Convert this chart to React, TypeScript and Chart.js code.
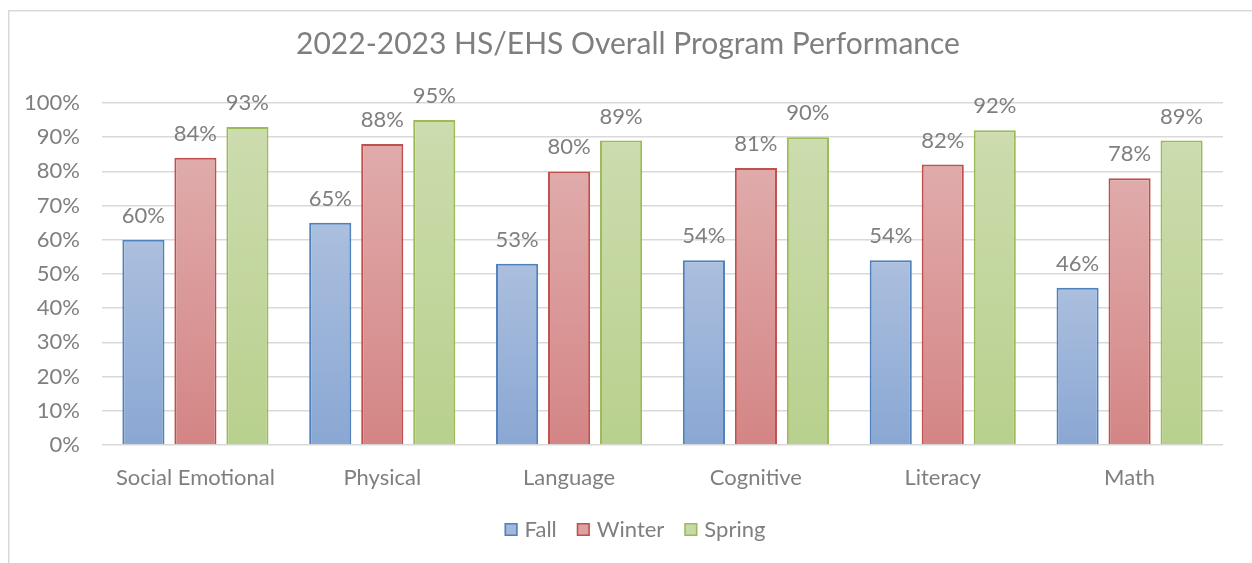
import React, { useEffect, useRef } from "react";
import { Chart, registerables } from "chart.js";

Chart.register(...registerables);

const categories = ["Social Emotional", "Physical", "Language", "Cognitive", "Literacy", "Math"];
const fallValues = [60, 65, 53, 54, 54, 46];
const winterValues = [84, 88, 80, 81, 82, 78];
const springValues = [93, 95, 89, 90, 92, 89];
const seriesNames = ["Fall", "Winter", "Spring"];
const yTicks = [0, 10, 20, 30, 40, 50, 60, 70, 80, 90, 100];
const titleText = "2022-2023 HS/EHS Overall Program Performance";

const FONT = "Lato";
const TEXT = "#7f7f7f";

const palette = [
  { border: "#4f81bd", top: "#abbfde", bottom: "#8aa7d3", legend: "#a3b9dc" },
  { border: "#c0504d", top: "#e0abab", bottom: "#d48585", legend: "#dca2a2" },
  { border: "#9bbb59", top: "#ccdcae", bottom: "#b8d08d", legend: "#c6d9a6" },
];

function gradientFor(idx: number) {
  return (ctx: any) => {
    const chart = ctx.chart;
    const ys = chart.scales && chart.scales.y;
    if (!chart.chartArea || !ys || ctx.raw == null) return palette[idx].top;
    const top = ys.getPixelForValue(ctx.raw);
    const bottom = ys.getPixelForValue(0);
    const g = chart.ctx.createLinearGradient(0, top, 0, bottom);
    g.addColorStop(0, palette[idx].top);
    g.addColorStop(1, palette[idx].bottom);
    return g;
  };
}

const decorPlugin = {
  id: "decor",
  beforeDraw(chart: any) {
    const c = chart.ctx;
    c.save();
    c.strokeStyle = "#d9d9d9";
    c.lineWidth = 1.5;
    c.beginPath();
    c.moveTo(8.75, 600);
    c.lineTo(8.75, 10.75);
    c.lineTo(1300, 10.75);
    c.stroke();
    c.restore();
  },
  afterDatasetsDraw(chart: any) {
    const c = chart.ctx;
    c.save();
    c.fillStyle = TEXT;
    c.font = `22px ${FONT}`;
    c.textAlign = "center";
    c.textBaseline = "alphabetic";
    chart.data.datasets.forEach((ds: any, di: number) => {
      const meta = chart.getDatasetMeta(di);
      meta.data.forEach((bar: any, i: number) => {
        c.fillText(ds.data[i] + "%", bar.x, bar.y - 17);
      });
    });
    c.restore();
  },
  afterDraw(chart: any) {
    const c = chart.ctx;
    c.save();
    // title
    c.fillStyle = TEXT;
    c.font = `30px ${FONT}`;
    c.textAlign = "center";
    c.textBaseline = "alphabetic";
    c.fillText(titleText, 628, 54);
    // legend
    c.font = `22px ${FONT}`;
    c.textAlign = "left";
    const box = 13;
    const gapText = 7;
    const gapItem = 20;
    const widths = seriesNames.map((n) => c.measureText(n).width);
    let total = 0;
    widths.forEach((w, i) => {
      total += box + gapText + w + (i < widths.length - 1 ? gapItem : 0);
    });
    let x = 635 - total / 2;
    seriesNames.forEach((n, i) => {
      c.fillStyle = palette[i].legend;
      c.fillRect(x, 523, box, box);
      c.strokeStyle = palette[i].border;
      c.lineWidth = 1.5;
      c.strokeRect(x + 0.75, 523.75, box - 1.5, box - 1.5);
      c.fillStyle = TEXT;
      c.fillText(n, x + box + gapText, 537);
      x += box + gapText + widths[i] + gapItem;
    });
    c.restore();
  },
};

export default function App() {
  const ref = useRef<HTMLCanvasElement | null>(null);
  useEffect(() => {
    if (!ref.current) return;
    const datasets = [fallValues, winterValues, springValues].map((vals, i) => ({
      label: seriesNames[i],
      data: vals,
      backgroundColor: gradientFor(i),
      borderColor: palette[i].border,
      borderWidth: 2,
      categoryPercentage: 0.835,
      barPercentage: 0.81,
    }));
    const chart = new Chart(ref.current, {
      type: "bar",
      data: { labels: categories, datasets },
      options: {
        animation: false,
        responsive: false,
        layout: { padding: { top: 103, right: 29, left: 0, bottom: 0 } },
        plugins: {
          legend: { display: false },
          title: { display: false },
          tooltip: { enabled: false },
        },
        scales: {
          x: {
            grid: { display: false, drawTicks: false },
            border: { display: false },
            ticks: { color: TEXT, font: { family: FONT, size: 22 }, padding: 20, maxRotation: 0 },
            afterFit: (s: any) => {
              s.height = 118;
            },
          },
          y: {
            min: 0,
            max: 100,
            afterBuildTicks: (s: any) => {
              s.ticks = yTicks.map((v) => ({ value: v }));
            },
            grid: { color: "#d9d9d9", lineWidth: 1.5, drawTicks: false },
            border: { display: false },
            ticks: {
              color: TEXT,
              font: { family: FONT, size: 22 },
              padding: 22,
              callback: (v: any) => v + "%",
            },
            afterFit: (s: any) => {
              s.width = 102;
            },
          },
        },
      },
      plugins: [decorPlugin],
    });
    return () => chart.destroy();
  }, []);
  return (
    <div style={{ position: "fixed", left: 0, top: 0, width: 1252, height: 563, background: "#fff" }}>
      <canvas ref={ref} width={1252} height={563} style={{ width: 1252, height: 563, display: "block" }} />
    </div>
  );
}
